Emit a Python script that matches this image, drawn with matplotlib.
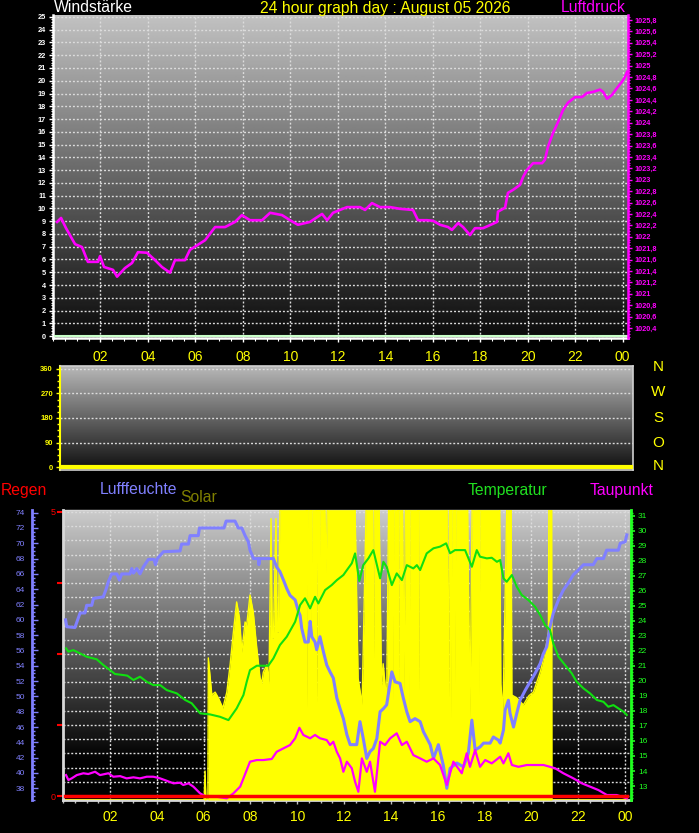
import numpy as np
import matplotlib
matplotlib.use("Agg")
import matplotlib.pyplot as plt
from matplotlib.ticker import MultipleLocator, FixedLocator, FuncFormatter

plt.rcParams["font.family"] = ["Liberation Sans", "DejaVu Sans"]

W, H = 699, 833

# ---------------- Daten ----------------
hour_ticks = [2, 4, 6, 8, 10, 12, 14, 16, 18, 20, 22, 24]
hour_labels = ["02", "04", "06", "08", "10", "12", "14", "16", "18", "20", "22", "00"]

# Luftdruck (hPa)
press_hours = [0.17, 0.34, 0.55, 0.93, 1.22, 1.47, 1.90, 1.98, 2.15, 2.53, 2.70, 3.03,
               3.33, 3.58, 3.96, 4.30, 4.59, 4.93, 5.14, 5.56, 5.77, 6.11, 6.41, 6.83,
               7.25, 7.67, 7.96, 8.30, 8.81, 9.15, 9.65, 9.99, 10.32, 10.83, 11.08, 11.34,
               11.55, 11.80, 12.09, 12.39, 12.94, 13.15, 13.44, 13.78, 14.20, 14.62, 15.17,
               15.38, 15.76, 16.01, 16.31, 16.65, 16.81, 17.07, 17.28, 17.57, 17.78, 18.12,
               18.50, 18.71, 18.75, 19.05, 19.17, 19.38, 19.68, 19.81, 19.97, 20.23, 20.61,
               20.73, 20.86, 21.07, 21.28, 21.49, 21.70, 22.00, 22.29, 22.50, 22.76, 23.05,
               23.18, 23.35, 23.56, 23.77, 23.98, 24.10, 24.19]
press_hpa = [1022.26, 1022.33, 1022.15, 1021.87, 1021.82, 1021.56, 1021.56, 1021.66, 1021.47,
             1021.42, 1021.30, 1021.45, 1021.54, 1021.73, 1021.72, 1021.59, 1021.47, 1021.37,
             1021.59, 1021.59, 1021.77, 1021.86, 1021.94, 1022.17, 1022.17, 1022.26, 1022.38,
             1022.29, 1022.29, 1022.42, 1022.38, 1022.29, 1022.21, 1022.26, 1022.33, 1022.40,
             1022.29, 1022.42, 1022.47, 1022.52, 1022.52, 1022.47, 1022.59, 1022.52, 1022.52,
             1022.49, 1022.47, 1022.29, 1022.29, 1022.28, 1022.21, 1022.17, 1022.12, 1022.24,
             1022.17, 1022.03, 1022.15, 1022.15, 1022.22, 1022.26, 1022.44, 1022.51, 1022.77,
             1022.82, 1022.91, 1023.05, 1023.17, 1023.29, 1023.29, 1023.35, 1023.58, 1023.82,
             1024.01, 1024.22, 1024.35, 1024.45, 1024.45, 1024.52, 1024.54, 1024.58, 1024.54,
             1024.42, 1024.49, 1024.61, 1024.72, 1024.80, 1024.89]

# Wind (Stärke und Richtung)
wind_hours = [0.1, 24.2]
wind_speed = [0, 0]
wind_dir = [0, 0]

# Luftfeuchte (%)
hum_hours = [0.10, 0.15, 0.50, 0.64, 0.72, 0.93, 1.00, 1.22, 1.29, 1.71, 1.83, 1.93, 2.07,
             2.29, 2.40, 2.50, 2.85, 2.93, 3.00, 3.14, 3.28, 3.42, 3.64, 3.88, 3.94, 4.02,
             4.28, 4.99, 5.06, 5.35, 5.42, 5.77, 5.82, 6.87, 6.96, 7.34, 7.48, 7.63, 7.77,
             7.91, 7.98, 8.13, 8.34, 8.36, 8.40, 8.98, 9.12, 9.26, 9.41, 9.55, 9.69, 9.91,
             10.05, 10.12, 10.19, 10.33, 10.47, 10.55, 10.62, 10.76, 10.83, 10.97, 11.12,
             11.26, 11.40, 11.54, 11.69, 11.83, 11.97, 12.12, 12.26, 12.54, 12.68, 12.82,
             12.97, 13.11, 13.25, 13.40, 13.54, 13.68, 13.82, 14.04, 14.18, 14.39, 14.53,
             14.68, 14.82, 15.03, 15.25, 15.39, 15.68, 15.82, 16.03, 16.24, 16.39, 16.53,
             16.82, 17.10, 17.31, 17.46, 17.60, 17.81, 17.96, 18.24, 18.38, 18.59, 18.67,
             18.81, 18.88, 19.02, 19.09, 19.24, 19.38, 19.52, 19.74, 19.95, 20.16, 20.38,
             20.52, 20.66, 20.80, 20.94, 21.16, 21.37, 21.58, 21.80, 22.01, 22.23, 22.65,
             22.80, 23.08, 23.22, 23.72, 23.80, 24.01, 24.08]
hum_pct = [60.0, 59.1, 59.0, 60.2, 60.9, 60.9, 61.9, 61.9, 62.8, 63.0, 64.0, 65.0, 66.0,
           66.0, 65.2, 66.0, 66.0, 66.7, 66.1, 66.7, 66.0, 66.9, 67.9, 67.9, 67.2, 68.0,
           68.9, 69.0, 69.9, 69.9, 71.0, 71.0, 72.0, 72.0, 72.9, 72.9, 72.0, 72.0, 71.0,
           70.2, 69.1, 68.0, 68.0, 67.2, 68.0, 68.0, 66.9, 66.3, 65.2, 64.1, 63.2, 62.6,
           61.1, 60.6, 58.9, 57.1, 57.1, 59.8, 57.8, 57.1, 56.1, 57.8, 55.8,
           54.1, 53.2, 52.4, 49.8, 48.4, 47.1, 45.0, 43.7, 43.7, 46.7, 44.5,
           41.9, 42.8, 43.2, 44.5, 48.0, 48.4, 48.9, 53.2, 51.9, 51.7, 49.8,
           48.0, 46.7, 47.1, 46.7, 45.4, 43.7, 41.9, 43.7, 41.0, 38.0, 40.6,
           41.3, 40.8, 42.6, 46.9, 43.0, 43.4, 43.9, 43.9, 44.7, 44.3, 43.9,
           45.6, 48.2, 49.5, 47.8, 46.0, 47.8, 49.5, 50.8, 51.9, 53.0, 54.3,
           55.6, 56.5, 59.1, 60.9, 62.6, 63.9, 64.8, 65.9, 66.5, 67.2, 67.2,
           68.0, 68.0, 69.1, 69.1, 70.0, 70.2, 71.1]

# Temperatur (°C)
temp_hours = [0.12, 0.22, 0.43, 0.72, 1.00, 1.43, 1.71, 2.00, 2.21, 2.57, 2.74, 3.00, 3.28,
              3.57, 3.85, 4.14, 4.42, 4.85, 5.21, 5.49, 5.85, 6.27, 6.70, 7.06, 7.41, 7.70,
              7.84, 7.98, 8.27, 8.76, 8.98, 9.26, 9.55, 9.91, 10.12, 10.33, 10.55, 10.76,
              10.90, 11.19, 11.47, 11.69, 11.97, 12.12, 12.33, 12.47, 12.65, 12.82, 13.04,
              13.25, 13.54, 13.68, 13.82, 14.04, 14.25, 14.47, 14.68, 14.96, 15.11, 15.25,
              15.53, 15.82, 16.10, 16.36, 16.53, 16.74, 17.17, 17.46, 17.67, 17.81, 18.10,
              18.31, 18.53, 18.67, 18.81, 18.95, 19.17, 19.38, 19.59, 19.88, 20.16, 20.38,
              20.59, 20.80, 20.94, 21.16, 21.44, 21.73, 21.94, 22.23, 22.51, 22.80, 23.08,
              23.29, 23.51, 23.72, 23.94, 24.08]
temp_c = [22.17, 21.95, 22.05, 21.83, 21.61, 21.44, 21.06, 20.72, 20.46, 20.39, 20.35, 20.06,
          20.28, 19.94, 19.72, 19.72, 19.39, 19.17, 18.73, 18.51, 17.84, 17.77, 17.61, 17.39,
          18.17, 19.06, 19.94, 20.72, 21.01, 21.01, 21.50, 22.39, 22.94, 23.94, 25.05, 25.50,
          24.83, 25.60, 25.16, 26.05, 26.38, 26.71, 27.05, 27.38, 27.83, 28.49, 26.65, 27.71,
          28.16, 28.71, 26.83, 27.93, 27.60, 26.38, 27.16, 26.71, 27.71, 27.49, 27.71, 27.38,
          28.49, 28.83, 28.94, 29.16, 28.50, 28.71, 28.71, 27.60, 28.71, 28.27, 28.16, 28.20,
          27.93, 28.05, 26.83, 26.60, 27.05, 26.27, 25.72, 25.38, 24.94, 24.38, 23.72, 23.39,
          22.50, 21.61, 21.06, 20.50, 19.94, 19.50, 19.17, 18.73, 18.61, 18.28, 18.39, 18.17,
          17.95, 17.73]

# Taupunkt (°C)
dew_hours = [0.12, 0.22, 0.36, 0.58, 0.86, 1.07, 1.36, 1.57, 1.93, 2.14, 2.43, 2.71, 3.00,
             3.28, 3.57, 3.85, 4.14, 4.42, 4.71, 4.99, 5.13, 5.35, 5.56, 5.85, 6.06, 6.41,
             6.70, 6.99, 7.27, 7.56, 7.70, 7.98, 8.27, 8.55, 8.91, 9.12, 9.41, 9.69, 9.91,
             10.09, 10.26, 10.55, 10.76, 10.97, 11.26, 11.40, 11.54, 11.69, 11.83, 11.97,
             12.12, 12.33, 12.47, 12.61, 12.76, 12.97, 13.11, 13.32, 13.54, 13.75, 13.97,
             14.25, 14.47, 14.68, 14.96, 15.25, 15.53, 15.82, 16.10, 16.39, 16.67, 17.03,
             17.24, 17.38, 17.60, 17.81, 18.03, 18.31, 18.67, 18.81, 19.02, 19.17, 19.45,
             19.81, 20.24, 20.52, 20.80, 21.02, 21.37, 21.80, 22.16, 22.51, 22.87, 23.23,
             23.65, 24.08]
dew_c = [13.73, 13.40, 13.51, 13.73, 13.85, 13.80, 13.95, 13.73, 13.85, 13.62, 13.66, 13.51,
         13.58, 13.51, 13.62, 13.62, 13.51, 13.35, 13.18, 13.22, 13.07, 13.18, 12.96, 12.51,
         12.33, 12.33, 12.25, 12.18, 12.51, 12.96, 13.51, 14.62, 14.73, 14.73, 14.80, 15.28,
         15.51, 15.73, 16.18, 16.88, 16.40, 16.18, 16.40, 16.18, 16.06, 15.73, 15.95, 15.28,
         14.84, 13.95, 14.62, 14.18, 13.29, 12.62, 14.84, 13.95, 14.62, 12.62, 15.95, 15.73,
         16.18, 16.51, 15.73, 15.95, 15.06, 14.84, 14.62, 14.84, 14.40, 13.07, 14.62, 13.85,
         15.18, 14.28, 15.40, 14.28, 14.73, 14.51, 14.95, 14.51, 15.18, 14.40, 14.28, 14.40,
         14.40, 14.40, 14.28, 14.18, 13.85, 13.51, 13.18, 12.96, 12.73, 12.40, 12.40, 12.18]

# Solar (W/m², oben abgeschnitten bei 1000)
solar_hours = [0.12, 6.02, 6.06, 6.10, 6.18, 6.20, 6.35, 6.49, 6.63, 6.82, 6.99, 7.13, 7.27,
               7.41, 7.53, 7.63, 7.77, 7.84, 7.98, 8.12, 8.27, 8.41, 8.48, 8.55, 8.70, 8.79,
               8.88, 8.93, 8.98, 9.09, 9.14, 9.19, 9.26,
               10.38, 10.41, 10.44, 10.56, 10.59, 10.62, 10.80, 10.83, 10.86, 10.90, 10.93,
               10.96, 11.18, 11.23, 11.28, 12.47, 12.60, 12.77, 12.94, 13.21, 13.25, 13.29,
               13.50, 13.60, 13.67, 13.82, 13.90, 14.06, 14.09, 14.12, 14.29, 14.32, 14.35,
               14.50, 14.56, 14.62, 14.75, 14.78, 14.81, 15.15, 15.18, 15.21,
               16.40, 16.46, 16.50, 16.54, 16.57, 16.60, 16.71, 16.74, 16.77, 17.28, 17.38,
               17.47, 17.74, 17.77, 17.80, 18.65, 18.70, 18.79, 18.95, 19.14, 19.17, 19.38,
               19.66, 19.90, 20.09, 20.38, 20.59, 20.73, 20.75, 20.87, 20.88, 24.08]
solar_wm2 = [0, 0, 100, 0, 0, 490, 362, 372, 352, 317, 372, 466, 579,
             683, 628, 510, 614, 603, 707, 648, 524, 421, 403, 441, 466, 403,
             970, 560, 559, 970, 580, 580, 1000,
             1000, 317, 1000, 1000, 534, 1000, 1000, 338, 1000, 1000, 510,
             1000, 1000, 786, 1000, 1000, 420, 330, 1000, 1000, 373, 1000,
             1000, 397, 470, 340, 1000, 1000, 345, 1000, 1000, 269, 1000,
             1000, 372, 1000, 1000, 269, 1000, 1000, 372, 1000,
             1000, 317, 1000, 1000, 283, 1000, 1000, 400, 1000, 1000, 283,
             1000, 1000, 362, 1000, 1000, 400, 303, 1000, 1000, 362, 352,
             328, 360, 372, 441, 510, 579, 1000, 1000, 0, 0]

# Regen (mm)
rain_hours = [0.08, 24.10]
rain_mm = [0, 0]

# ---------------- Zeichnen ----------------
fig = plt.figure(figsize=(W / 100, H / 100), dpi=100, facecolor="black")


def rect(l, t, r, b):
    return [l / W, 1 - b / H, (r - l) / W, (b - t) / H]


def ftext(x, y, s, **kw):
    fig.text(x / W, 1 - y / H, s, va="center", fontsize=11.3, **kw)


def gradient(ax, top, bottom):
    g = np.clip(np.linspace(top, bottom, 256), 0, 1).reshape(-1, 1)
    ax.imshow(g, cmap="gray", vmin=0, vmax=1, aspect="auto", extent=(0, 1, 0, 1),
              transform=ax.transAxes, zorder=0, interpolation="bilinear")


grid_kw = dict(color="#dcdcdc", linestyle=(0, (1.4, 1.4)), linewidth=1)

# --- Windstärke / Luftdruck ---
ax1 = fig.add_axes(rect(53, 15, 628, 338))
gradient(ax1, 0.76, 0.04)
ax1.plot(wind_hours, wind_speed, color="#c8ffc8", lw=1.5, clip_on=False, zorder=3)
ax1.set_xlim(0, 24.23)
ax1.set_ylim(-0.15, 25.15)
ax1.set_xticks(hour_ticks)
ax1.set_xticklabels(hour_labels)
ax1.xaxis.set_minor_locator(MultipleLocator(0.5))
ax1.yaxis.set_major_locator(MultipleLocator(1))
ax1.yaxis.set_minor_locator(MultipleLocator(0.2))
ax1.grid(True, which="major", **grid_kw)
ax1.tick_params(axis="y", which="major", colors="white", labelsize=5.3, length=3, width=1, pad=2)
ax1.tick_params(axis="y", which="minor", colors="white", length=1.5, width=0.8)
ax1.tick_params(axis="x", which="major", colors="white", labelcolor="yellow", labelsize=10,
                length=3, width=1, pad=6)
ax1.tick_params(axis="x", which="minor", colors="white", length=2, width=0.8)
for lab in ax1.get_yticklabels():
    lab.set_fontweight("bold")
for s in ["top", "right"]:
    ax1.spines[s].set_visible(False)
for s in ["left", "bottom"]:
    ax1.spines[s].set_color("white")
    ax1.spines[s].set_linewidth(1.8)

axp = ax1.twinx()
axp.plot(press_hours, press_hpa, color="#ff00ff", lw=1.9)
axp.set_ylim(1020.225, 1025.888)
axp.yaxis.set_major_locator(MultipleLocator(0.2))
axp.yaxis.set_minor_locator(MultipleLocator(0.05))
axp.yaxis.set_major_formatter(FuncFormatter(lambda v, p: f"{round(v, 1):g}".replace(".", ",")))
axp.tick_params(axis="y", which="major", colors="#ff00ff", labelsize=5.3, length=3, width=1, pad=2)
axp.tick_params(axis="y", which="minor", colors="#ff00ff", length=1.5, width=0.8)
for lab in axp.get_yticklabels():
    lab.set_fontweight("bold")
for s in ["top", "left", "bottom"]:
    axp.spines[s].set_visible(False)
axp.spines["right"].set_color("#ff00ff")
axp.spines["right"].set_linewidth(1.8)

ftext(54, 8, "Windstärke", color="white", ha="left")
ftext(385, 8, "24 hour graph day : August 05 2026", color="yellow", ha="center")
ftext(626, 8, "Luftdruck", color="#ff00ff", ha="right")

# --- Windrichtung ---
ax2 = fig.add_axes(rect(60, 366, 633, 470))
gradient(ax2, 0.72, 0.06)
ax2.plot(wind_hours, wind_dir, color="yellow", lw=3, zorder=3)
ax2.set_xlim(0.1, 24.2)
ax2.set_ylim(-11, 371)
ax2.set_xticks([])
ax2.yaxis.set_major_locator(FixedLocator([0, 90, 180, 270, 360]))
ax2.yaxis.set_minor_locator(MultipleLocator(22.5))
ax2.grid(True, axis="y", **grid_kw)
ax2.tick_params(axis="y", which="major", colors="yellow", labelsize=5.5, length=3, width=1, pad=2)
ax2.tick_params(axis="y", which="minor", colors="yellow", length=2, width=1)
for lab in ax2.get_yticklabels():
    lab.set_fontweight("bold")
for s in ["top", "right", "bottom"]:
    ax2.spines[s].set_color("#d0d0d0")
    ax2.spines[s].set_linewidth(1.2)
ax2.spines["left"].set_color("yellow")
ax2.spines["left"].set_linewidth(1.5)

for yy, lab in zip([367, 392, 418, 443, 466], ["N", "W", "S", "O", "N"]):
    fig.text(658 / W, 1 - yy / H, lab, color="yellow", fontsize=11, ha="center", va="center")

# --- Legende unten ---
ftext(1, 490, "Regen", color="red", ha="left")
ftext(100, 490, "Lufffeuchte", color="#8080ff", ha="left")
ftext(180, 497, "Solar", color="#808000", ha="left")
ftext(468, 490, "Temperatur", color="#20e020", ha="left")
ftext(590, 490, "Taupunkt", color="#ff00ff", ha="left")

# --- Regen / Solar / Feuchte / Temperatur ---
ax3 = fig.add_axes(rect(63, 510, 631, 800))
gradient(ax3, 0.80, -0.12)
ax3.set_xlim(-0.01, 24.26)
ax3.set_ylim(-0.07, 5.035)
ax3.set_xticks(hour_ticks)
ax3.set_xticklabels(hour_labels)
ax3.xaxis.set_minor_locator(MultipleLocator(0.5))
ax3.yaxis.set_major_locator(FixedLocator([0, 1.25, 2.5, 3.75, 5]))
ax3.yaxis.set_major_formatter(FuncFormatter(lambda v, p: f"{v:g}" if v in (0, 5) else ""))
ax3.yaxis.set_minor_locator(MultipleLocator(0.25))
ax3.grid(True, axis="x", **grid_kw)
ax3.grid(True, axis="y", which="both", **grid_kw)
ax3.tick_params(axis="y", which="major", colors="red", labelsize=6.5, length=4, width=1.5, pad=1)
ax3.tick_params(axis="y", which="minor", length=0)
ax3.tick_params(axis="x", which="major", colors="#c0c0c0", labelcolor="yellow", labelsize=10,
                length=3, width=1, pad=4)
ax3.tick_params(axis="x", which="minor", colors="#c0c0c0", length=2, width=1)
ax3.spines["right"].set_visible(False)
for s in ["left", "bottom"]:
    ax3.spines[s].set_color("#d8d8d8")
    ax3.spines[s].set_linewidth(2)
ax3.spines["top"].set_color("#d8d8d8")
ax3.spines["top"].set_linewidth(1)

axs = ax3.twinx()
axs.fill_between(solar_hours, 0, solar_wm2, color="#ffff00", lw=0)
axs.plot(solar_hours, solar_wm2, color="#ffff00", lw=1)
axs.set_ylim(0, 1000)
axs.axis("off")

axh = ax3.twinx()
axh.plot(hum_hours, hum_pct, color="#8080ff", lw=2.2)
axh.set_ylim(36.47, 74.35)
axh.yaxis.set_ticks_position("left")
axh.yaxis.set_label_position("left")
axh.spines["left"].set_position(("outward", 22.3))
axh.spines["left"].set_color("#8080ff")
axh.spines["left"].set_linewidth(2)
for s in ["top", "right", "bottom"]:
    axh.spines[s].set_visible(False)
axh.yaxis.set_major_locator(MultipleLocator(2))
axh.yaxis.set_minor_locator(MultipleLocator(0.5))
axh.tick_params(axis="y", which="major", colors="#8080ff", direction="in", labelsize=6,
                length=4, width=1, pad=5)
axh.tick_params(axis="y", which="minor", colors="#8080ff", direction="in", length=2.5, width=1)

axt = ax3.twinx()
axt.plot(temp_hours, temp_c, color="#10e010", lw=1.5)
axt.plot(dew_hours, dew_c, color="#ff00ff", lw=1.6)
axt.set_ylim(12.07, 31.38)
axt.yaxis.set_major_locator(MultipleLocator(1))
axt.yaxis.set_minor_locator(MultipleLocator(0.2))
axt.tick_params(axis="y", which="major", colors="#20ff20", labelsize=6, length=3, width=1.2, pad=2)
axt.tick_params(axis="y", which="minor", colors="#20ff20", length=1.5, width=1)
for s in ["top", "left", "bottom"]:
    axt.spines[s].set_visible(False)
axt.spines["right"].set_color("#20ff20")
axt.spines["right"].set_linewidth(2)

axr = ax3.twinx()
axr.plot(rain_hours, rain_mm, color="red", lw=2.5)
axr.set_ylim(ax3.get_ylim())
axr.axis("off")

fig.savefig("out.png", dpi=100, facecolor="black")
